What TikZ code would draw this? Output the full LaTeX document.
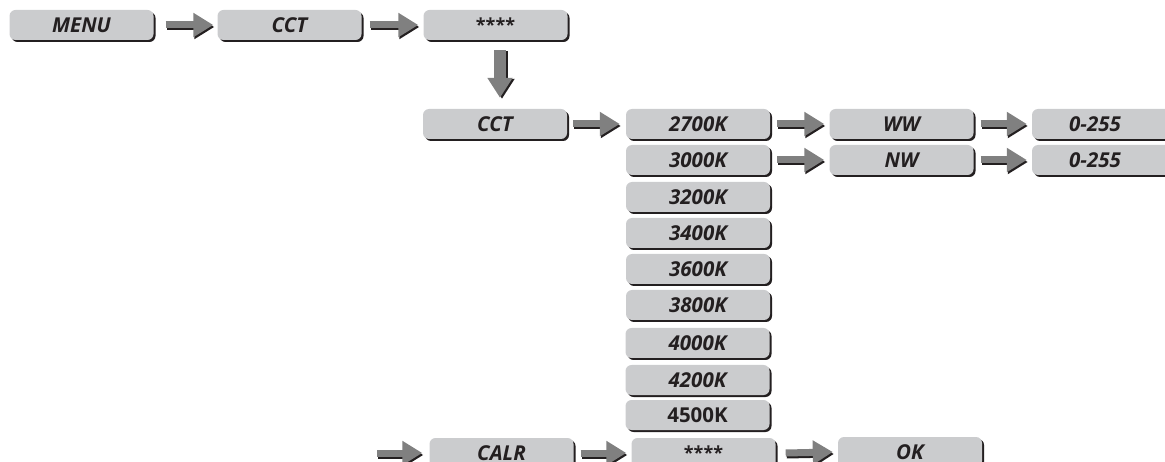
\documentclass[tikz,border=0pt]{standalone}
\usepackage{fontspec}
\setmainfont{Open Sans}
\usetikzlibrary{arrows.meta}
\definecolor{boxfill}{HTML}{CBCCCE}
\definecolor{arrgray}{HTML}{808080}
\definecolor{darkc}{HTML}{231F20}
\tikzset{
  menubox/.style={rounded corners=6pt, fill=boxfill, minimum width=144pt, minimum height=30pt,
    inner sep=0pt, text=darkc, font=\fontsize{20.5}{20.5}\selectfont\bfseries\itshape,
    preaction={fill=darkc, transform canvas={shift={(2pt,-2pt)}}}},
  upbox/.style={menubox, font=\fontsize{20.5}{20.5}\selectfont\bfseries},
  starbox/.style={menubox, font=\fontsize{18}{18}\selectfont\bfseries},
  arrmain/.style={arrgray, line width=7pt, -{Triangle[length=20pt,width=23pt]}},
  arrshadow/.style={darkc, line width=7pt, -{Triangle[length=20pt,width=23pt]},
    transform canvas={shift={(1pt,-2pt)}}},
  varrmain/.style={arrgray, line width=12pt, -{Triangle[length=20pt,width=24pt]}},
  varrshadow/.style={darkc, line width=12pt, -{Triangle[length=20pt,width=24pt]},
    transform canvas={shift={(2pt,-1pt)}}},
}
\newcommand\harrow[4]{%
  \draw[arrshadow] ([xshift=#3pt]#1.east) -- ([xshift=-#4pt]#2.west);
  \draw[arrmain] ([xshift=#3pt]#1.east) -- ([xshift=-#4pt]#2.west);}
\begin{document}
\begin{tikzpicture}[x=1pt,y=-1pt]
\useasboundingbox (0,0) rectangle (1165,462);
\clip (0,0) rectangle (1165,462);
% top row
\node[menubox] (menu) at (81.5,25) {MENU};
\node[menubox] (cct) at (289.5,25) {CCT};
\node[starbox] (stars) at (495.5,25) {****};
% second level
\node[menubox] (cct2) at (495,124) {CCT};
\node[menubox] (k2700) at (698,124) {2700K};
\node[menubox] (k3000) at (698,160) {3000K};
\node[menubox] (k3200) at (698,197) {3200K};
\node[menubox] (k3400) at (698,233) {3400K};
\node[menubox] (k3600) at (698,269) {3600K};
\node[menubox] (k3800) at (698,305) {3800K};
\node[menubox] (k4000) at (697.5,343) {4000K};
\node[menubox] (k4200) at (697.5,380) {4200K};
\node[upbox] (k4500) at (697.5,415) {4500K};
\node[menubox] (ww) at (901.5,124) {WW};
\node[menubox] (nw) at (901.5,160) {NW};
\node[menubox] (va) at (1104,124) {\hspace*{-18pt}0-255};
\node[menubox] (vb) at (1104,160) {\hspace*{-18pt}0-255};
% bottom row
\node[menubox] (calr) at (501.5,453) {CALR};
\node[starbox] (stars2) at (703.5,453) {****};
\node[menubox] (ok) at (910,452) {OK};
\coordinate (start) at (377,453);
% arrows
\harrow{menu}{cct}{12}{4}
\harrow{cct}{stars}{8}{5}
\draw[varrshadow] ([shift={(4.5,10)}]stars.south) -- ([shift={(5,-11)}]cct2.north);
\draw[varrmain] ([shift={(4.5,10)}]stars.south) -- ([shift={(5,-11)}]cct2.north);
\harrow{cct2}{k2700}{6}{6}
\harrow{k2700}{ww}{7}{5}
\harrow{k3000}{nw}{7}{5}
\harrow{ww}{va}{7}{5}
\harrow{nw}{vb}{7}{5}
\draw[arrshadow] (start) -- ([xshift=-7pt]calr.west);
\draw[arrmain] (start) -- ([xshift=-7pt]calr.west);
\harrow{calr}{stars2}{7}{5}
\harrow{stars2}{ok}{10}{5}
\end{tikzpicture}
\end{document}
